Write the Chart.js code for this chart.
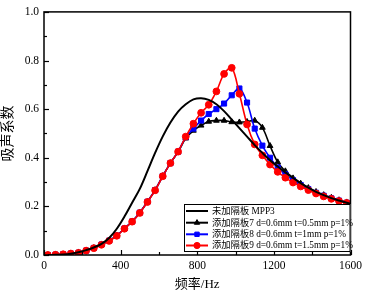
<!DOCTYPE html>
<html>
<head>
<meta charset="utf-8">
<script src="https://cdn.jsdelivr.net/npm/chart.js@4.4.1/dist/chart.umd.min.js"></script>
<style>
html,body{margin:0;padding:0;background:#fff;}
#wrap{width:366px;height:292px;}
</style>
</head>
<body>
<div id="wrap"><canvas id="c" width="366" height="292"></canvas></div>
<script>
const freq = [20,60,100,140,180,220,260,300,340,380,420,460,500,540,580,620,660,700,740,780,820,860,900,940,980,1020,1060,1100,1140,1180,1220,1260,1300,1340,1380,1420,1460,1500,1540,1580,1600];
const mpp3 = [0.000,0.001,0.002,0.005,0.011,0.020,0.031,0.046,0.070,0.108,0.158,0.215,0.272,0.345,0.420,0.488,0.545,0.590,0.620,0.640,0.645,0.638,0.620,0.592,0.557,0.522,0.487,0.452,0.420,0.390,0.364,0.340,0.317,0.296,0.277,0.260,0.246,0.234,0.224,0.215,0.210];
const mpp7 = [0.000,0.001,0.003,0.006,0.010,0.019,0.029,0.043,0.059,0.080,0.109,0.138,0.174,0.219,0.267,0.325,0.378,0.424,0.480,0.512,0.533,0.549,0.553,0.553,0.547,0.546,0.548,0.553,0.524,0.449,0.382,0.345,0.316,0.294,0.276,0.260,0.247,0.236,0.226,0.217,0.211];
const mpp8 = [0.000,0.001,0.003,0.006,0.009,0.018,0.029,0.043,0.059,0.080,0.109,0.138,0.174,0.219,0.267,0.325,0.378,0.425,0.485,0.520,0.553,0.580,0.600,0.623,0.657,0.685,0.627,0.520,0.450,0.400,0.360,0.332,0.308,0.288,0.271,0.256,0.244,0.233,0.224,0.215,0.210];
const mpp9 = [0.000,0.001,0.003,0.006,0.009,0.018,0.028,0.042,0.058,0.079,0.108,0.137,0.173,0.218,0.266,0.324,0.378,0.425,0.487,0.540,0.585,0.618,0.673,0.745,0.770,0.663,0.537,0.455,0.410,0.372,0.342,0.318,0.298,0.282,0.267,0.253,0.241,0.231,0.222,0.214,0.209];
const seriesLabels = ['未加隔板 MPP3','添加隔板7 d=0.6mm t=0.5mm p=1%','添加隔板8 d=0.6mm t=1mm p=1%','添加隔板9 d=0.6mm t=1.5mm p=1%'];
const xTicks = [0,400,800,1200,1600];
const yTicks = [0.0,0.2,0.4,0.6,0.8,1.0];

const serif = "'Liberation Serif','Noto Sans CJK SC',serif";
const toXY = arr => arr.map((v,i)=>({x:freq[i], y:v}));
const rad = r => (ctx => ctx.dataIndex === freq.length-1 ? 0 : r);

const datasets = [
  {label:seriesLabels[0], data:toXY(mpp3), borderColor:'#000', backgroundColor:'#000', borderWidth:2, pointRadius:0, pointStyle:false, order:0},
  {label:seriesLabels[1], data:toXY(mpp7), borderColor:'#000', backgroundColor:'#000', borderWidth:1.6, pointStyle:'triangle', pointRadius:rad(3.3), pointBorderWidth:1, order:3},
  {label:seriesLabels[2], data:toXY(mpp8), borderColor:'#0000ff', backgroundColor:'#0000ff', borderWidth:1.6, pointStyle:'rect', pointRadius:rad(3.6), pointBorderWidth:1, order:2},
  {label:seriesLabels[3], data:toXY(mpp9), borderColor:'#ff0000', backgroundColor:'#ff0000', borderWidth:1.6, pointStyle:'circle', pointRadius:rad(3.4), pointBorderWidth:1, order:1}
];

const frame = {
  id:'frame',
  afterDatasetsDraw(chart){
    const {ctx, chartArea:a, scales} = chart;
    ctx.save();
    ctx.strokeStyle = '#000';
    ctx.lineWidth = 1.2;
    const xs = scales.x, ys = scales.y;
    for (let v=0; v<=1600; v+=200){
      const px = Math.round(xs.getPixelForValue(v))+0.5;
      const len = (v%400===0)?5:3;
      ctx.beginPath(); ctx.moveTo(px,a.bottom); ctx.lineTo(px,a.bottom-len); ctx.stroke();
    }
    for (let k=0; k<=10; k++){
      const py = Math.round(ys.getPixelForValue(k/10))+0.5;
      const len = (k%2===0)?5:3;
      ctx.beginPath(); ctx.moveTo(a.left,py); ctx.lineTo(a.left+len,py); ctx.stroke();
    }
    ctx.lineWidth = 1.5;
    ctx.strokeRect(a.left, a.top, a.right-a.left, a.bottom-a.top);
    ctx.restore();
  },
  afterDraw(chart){
    const {ctx, chartArea:a} = chart;
    const bx = 184, by = 204, bw = a.right-184, bh = 48;
    ctx.save();
    ctx.fillStyle = '#fff';
    ctx.fillRect(bx,by,bw,bh);
    ctx.strokeStyle = '#000';
    ctx.lineWidth = 1;
    ctx.strokeRect(bx+0.5,by+0.5,bw-1,bh-1);
    const rows = [211,222.7,234.3,245.5];
    ctx.font = "9.3px " + serif;
    ctx.textBaseline = 'middle';
    ctx.textAlign = 'left';
    chart.data.datasets.forEach((ds,i)=>{
      const y = rows[i];
      ctx.strokeStyle = ds.borderColor;
      ctx.lineWidth = 2;
      ctx.beginPath(); ctx.moveTo(bx+2,y); ctx.lineTo(bx+24,y); ctx.stroke();
      if (ds.pointStyle){
        ctx.fillStyle = ds.backgroundColor;
        ctx.strokeStyle = ds.borderColor;
        ctx.lineWidth = 1;
        Chart.helpers.drawPoint(ctx, {pointStyle:ds.pointStyle, radius:3.1, borderWidth:1, rotation:0}, bx+13, y);
      }
      ctx.fillStyle = '#000';
      ctx.fillText(ds.label, bx+28, y+0.5);
    });
    ctx.restore();
  }
};

new Chart(document.getElementById('c'), {
  type:'line',
  data:{datasets},
  options:{
    responsive:false,
    animation:false,
    layout:{padding:{top:6,right:12,left:0,bottom:0}},
    elements:{line:{tension:0.35, fill:false}},
    plugins:{legend:{display:false}, tooltip:{enabled:false}},
    scales:{
      x:{
        type:'linear', min:0, max:1600,
        afterFit(s){ s.height = 37; },
        afterBuildTicks(s){ s.ticks = xTicks.map(v=>({value:v})); },
        grid:{display:false, drawTicks:false},
        border:{display:false},
        ticks:{padding:4, color:'#000', font:{family:serif, size:11.5}, maxRotation:0, autoSkip:false, callback:v=>String(v)},
        title:{display:true, text:'频率/Hz', color:'#000', font:{family:serif, size:13}, padding:{top:0,bottom:0}}
      },
      y:{
        type:'linear', min:0, max:1,
        afterFit(s){ s.width = 44; },
        afterBuildTicks(s){ s.ticks = yTicks.map(v=>({value:v})); },
        grid:{display:false, drawTicks:false},
        border:{display:false},
        ticks:{padding:5, color:'#000', font:{family:serif, size:11.5}, callback:v=>Number(v).toFixed(1)},
        title:{display:true, text:'吸声系数', color:'#000', font:{family:serif, size:14}, padding:{top:0,bottom:0}}
      }
    }
  },
  plugins:[frame]
});
</script>
</body>
</html>
